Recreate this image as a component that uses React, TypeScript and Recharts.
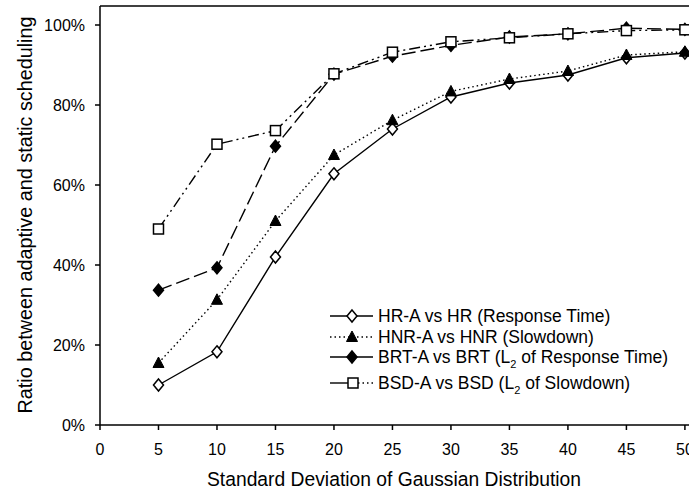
import React from 'react';
import { LineChart, Line, XAxis, YAxis, Legend, ReferenceLine } from 'recharts';

// Standard deviation of the Gaussian distribution (x axis)
const deviations = [5, 10, 15, 20, 25, 30, 35, 40, 45, 50];

// Ratio between adaptive and static scheduling, in percent
const hrRatio = [10, 18.3, 42, 62.8, 74, 82, 85.5, 87.5, 91.8, 93];
const hnrRatio = [15.5, 31.3, 51, 67.5, 76.2, 83.4, 86.5, 88.5, 92.5, 93.3];
const brtRatio = [33.7, 39.3, 69.7, 87.7, 92.2, 94.9, 97, 97.8, 99.2, 98.9];
const bsdRatio = [49, 70.2, 73.6, 87.8, 93.2, 95.8, 96.8, 97.8, 98.6, 98.8];

const xTicks = [0, 5, 10, 15, 20, 25, 30, 35, 40, 45, 50];
const yTicks = [0, 20, 40, 60, 80, 100];

const X_MAX = 53;
const Y_MAX = 104.75;

const FONT = '"Liberation Sans", Arial, sans-serif';

const data = deviations.map((sd, i) => ({
  sd,
  hr: hrRatio[i],
  hnr: hnrRatio[i],
  brt: brtRatio[i],
  bsd: bsdRatio[i],
}));

type MarkProps = { cx?: number; cy?: number; index?: number };

const diamondPath = (cx: number, cy: number) =>
  `M${cx},${cy - 6}L${cx + 5},${cy}L${cx},${cy + 6}L${cx - 5},${cy}Z`;

const OpenDiamond = ({ cx = 0, cy = 0 }: MarkProps) => (
  <path d={diamondPath(cx, cy)} fill="#fff" stroke="#000" strokeWidth={1.5} />
);
const FilledDiamond = ({ cx = 0, cy = 0 }: MarkProps) => (
  <path d={diamondPath(cx, cy)} fill="#000" stroke="#000" strokeWidth={1.5} />
);
const FilledTriangle = ({ cx = 0, cy = 0 }: MarkProps) => (
  <path
    d={`M${cx},${cy - 6}L${cx + 5.5},${cy + 4.5}L${cx - 5.5},${cy + 4.5}Z`}
    fill="#000"
    stroke="#000"
    strokeWidth={1}
  />
);
const OpenSquare = ({ cx = 0, cy = 0 }: MarkProps) => (
  <rect x={cx - 5} y={cy - 5} width={10} height={10} fill="#fff" stroke="#000" strokeWidth={1.5} />
);

const dotOf = (Mark: React.FC<MarkProps>) => (props: any) =>
  <Mark key={`m-${props.index}`} cx={props.cx} cy={props.cy} />;

const LegendBox = () => {
  const rows = [
    { y: 16, mark: <OpenDiamond cx={27} cy={16} />, line: <line x1={5} x2={48} y1={16} y2={16} stroke="#000" strokeWidth={1.4} />, text: <tspan>HR-A vs HR (Response Time)</tspan> },
    { y: 37, mark: <FilledTriangle cx={27} cy={37} />, line: <line x1={5} x2={48} y1={37} y2={37} stroke="#000" strokeWidth={1.4} strokeDasharray="1.5 3" />, text: <tspan>HNR-A vs HNR (Slowdown)</tspan> },
    { y: 57, mark: <FilledDiamond cx={27} cy={57} />, line: <line x1={5} x2={48} y1={57} y2={57} stroke="#000" strokeWidth={1.4} />, text: <><tspan>BRT-A vs BRT (L</tspan><tspan fontSize={11} dy={5}>2</tspan><tspan dy={-5}> of Response Time)</tspan></> },
    { y: 83, mark: <OpenSquare cx={28} cy={83} />, line: <><line x1={5} x2={23} y1={83} y2={83} stroke="#000" strokeWidth={1.4} /><line x1={33} x2={48} y1={83} y2={83} stroke="#000" strokeWidth={1.4} strokeDasharray="1.5 3" /></>, text: <><tspan>BSD-A vs BSD (L</tspan><tspan fontSize={11} dy={5}>2</tspan><tspan dy={-5}> of Slowdown)</tspan></> },
  ];
  return (
    <svg width={364} height={96} style={{ display: 'block' }}>
      {rows.map((r, i) => (
        <g key={i}>
          {r.line}
          {r.mark}
          <text x={53} y={r.y + 6} fontSize={17.5} fontFamily={FONT} fill="#000">
            {r.text}
          </text>
        </g>
      ))}
    </svg>
  );
};

const XTitle = () => (
  <text x={394} y={486} textAnchor="middle" fontSize={19.3} fontFamily={FONT} fill="#000">
    Standard Deviation of Gaussian Distribution
  </text>
);

const YTitle = () => (
  <text
    x={32}
    y={215}
    transform="rotate(-90, 32, 215)"
    textAnchor="middle"
    fontSize={19.8}
    fontFamily={FONT}
    fill="#000"
  >
    Ratio between adaptive and static scheduling
  </text>
);

export default function App() {
  return (
    <div
      style={{
        position: 'absolute',
        left: 0,
        top: 0,
        width: 689,
        height: 492,
        overflow: 'hidden',
        background: '#fff',
        fontFamily: FONT,
      }}
    >
      <LineChart width={720} height={492} data={data} margin={{ top: 6, right: 0, bottom: 0, left: 0 }}>
        <XAxis
          dataKey="sd"
          type="number"
          domain={[0, X_MAX]}
          ticks={xTicks}
          allowDataOverflow
          height={67}
          tickSize={5}
          tickMargin={14}
          stroke="#000"
          strokeWidth={1.5}
          tick={{ fill: '#000', fontSize: 16, fontFamily: FONT }}
          label={{ content: () => <XTitle /> }}
        />
        <YAxis
          type="number"
          domain={[0, Y_MAX]}
          ticks={yTicks}
          allowDataOverflow
          width={100}
          tickSize={5}
          tickMargin={10}
          stroke="#000"
          strokeWidth={1.5}
          tickFormatter={(v: number) => `${v}%`}
          tick={{ fill: '#000', fontSize: 16, fontFamily: FONT }}
          label={{ content: () => <YTitle /> }}
        />
        <ReferenceLine y={Y_MAX} stroke="#000" strokeWidth={1.5} ifOverflow="visible" />
        <Line
          dataKey="hr"
          stroke="#000"
          strokeWidth={1.4}
          dot={dotOf(OpenDiamond)}
          isAnimationActive={false}
        />
        <Line
          dataKey="hnr"
          stroke="#000"
          strokeWidth={1.4}
          strokeDasharray="1.5 3"
          dot={dotOf(FilledTriangle)}
          isAnimationActive={false}
        />
        <Line
          dataKey="brt"
          stroke="#000"
          strokeWidth={1.4}
          strokeDasharray="14 5"
          dot={dotOf(FilledDiamond)}
          isAnimationActive={false}
        />
        <Line
          dataKey="bsd"
          stroke="#000"
          strokeWidth={1.4}
          strokeDasharray="11 4 2 4 2 4"
          dot={dotOf(OpenSquare)}
          isAnimationActive={false}
        />
        <Legend
          layout="vertical"
          align="center"
          verticalAlign="middle"
          content={() => <LegendBox />}
          wrapperStyle={{ left: 325, top: 300, width: 364, height: 96 }}
        />
      </LineChart>
    </div>
  );
}
